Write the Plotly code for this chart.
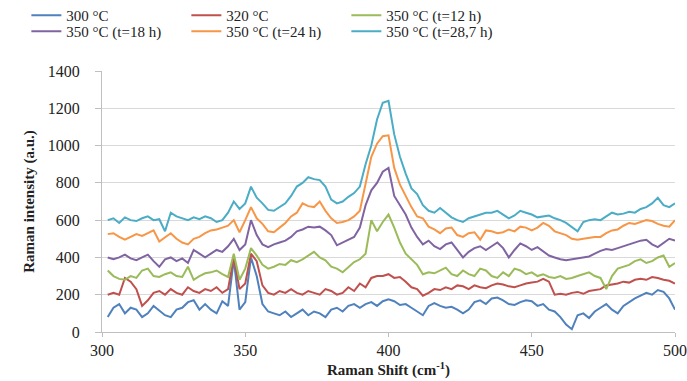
import plotly.graph_objects as go

x_start, x_step = 302, 2

s300 = [80, 130, 150, 100, 130, 120, 80, 100, 140, 115,
        90, 80, 120, 130, 160, 170, 120, 150, 120, 100,
        165, 140, 390, 120, 160, 400, 300, 150, 110, 100,
        90, 110, 80, 100, 120, 90, 110, 100, 80, 120,
        130, 110, 140, 150, 130, 150, 160, 140, 165,
        175, 165, 145, 150, 130, 110, 90, 140, 155, 140,
        130, 135, 120, 100, 120, 160, 170, 150, 180, 185,
        170, 150, 145, 160, 170, 165, 140, 150, 120, 110,
        80, 40, 15, 90, 100, 75, 110, 130, 150, 120,
        100, 140, 160, 180, 195, 210, 200, 225, 215, 180, 120]

s320 = [200, 210, 200, 290, 270, 230, 140, 170, 210, 220,
        200, 230, 210, 200, 240, 220, 210, 230, 220, 240,
        210, 230, 400, 230, 260, 420, 380, 250, 210, 200,
        220, 210, 230, 210, 200, 220, 210, 200, 230, 220,
        200, 210, 240, 220, 260, 240, 290, 300,
        300, 310, 290, 295, 270, 240, 230, 195, 210, 230,
        225, 240, 230, 250, 245, 230, 250, 240, 235, 250,
        260, 255, 245, 240, 250, 260, 265, 270, 285, 270,
        200, 205, 200, 210, 215, 205, 220, 225, 230, 250,
        255, 260, 270, 265, 280, 285, 280, 295, 290, 280, 275, 260]

s350_12 = [330, 300, 285, 280, 300, 290, 330, 340, 300, 295,
           310, 320, 300, 295, 350, 280, 300, 315, 320, 330,
           310, 295, 420, 280, 340, 450, 410, 360, 340, 350,
           365, 360, 385, 375, 390, 410, 430, 400, 385, 350,
           340, 320, 350, 375, 390, 420, 600, 540, 590, 630,
           560, 480, 420, 390, 360, 310, 320, 315, 330, 345,
           310, 300, 330, 310, 300, 340, 330, 300, 290, 320,
           300, 340, 330, 310, 320, 300, 310, 295, 290, 300,
           285, 290, 300, 310, 320, 300, 290, 230, 300, 340,
           350, 360, 380, 390, 370, 380, 400, 410, 350, 370]

s350_18 = [400, 390, 400, 415, 395, 385, 400, 415, 380, 350,
           390, 400, 380, 395, 370, 440, 420, 400, 420, 440,
           430, 460, 500, 440, 470, 600, 520, 470, 455, 470,
           480, 490, 510, 540, 550, 565, 560, 565, 545, 520,
           465, 480, 495, 510, 560, 680, 760, 800, 860, 880,
           730, 680, 630, 560, 510, 470, 490, 460, 445, 470,
           480, 440, 400, 430, 450, 460, 440, 460, 480, 450,
           400, 440, 475, 460, 440, 455, 430, 410, 400, 390,
           385, 390, 395, 400, 405, 420, 435, 445, 440, 450,
           460, 470, 480, 490, 495, 470, 455, 480, 500, 490]

s350_24 = [525, 530, 510, 495, 510, 525, 515, 530, 545, 485,
           510, 530, 500, 480, 470, 500, 510, 530, 545, 550,
           560, 570, 600, 535, 600, 670, 610, 580, 540, 535,
           560, 585, 620, 640, 690, 675, 670, 700, 650, 610,
           585, 590, 600, 620, 650, 800, 940, 1010, 1050, 1055,
           880, 790, 730, 670, 620, 610, 565, 550, 530, 555,
           560, 520, 510, 530, 535, 495, 545, 540, 530, 535,
           550, 540, 565, 560, 545, 560, 585, 570, 540, 530,
           520, 500, 495, 500, 505, 510, 510, 530, 545, 550,
           570, 585, 580, 590, 600, 595, 580, 570, 565, 600]

s350_287 = [600, 610, 585, 615, 600, 595, 610, 620, 600, 605,
            540, 640, 620, 610, 600, 615, 605, 620, 610, 590,
            600, 640, 700, 660, 690, 780, 720, 690, 655, 650,
            670, 690, 730, 780, 800, 830, 820, 815, 780, 710,
            690, 700, 725, 745, 780, 900, 1000, 1140, 1230, 1240,
            1060, 940, 850, 770, 740, 680, 650, 640, 665, 640,
            615, 600, 590, 610, 620, 630, 640, 640, 650, 630,
            610, 625, 650, 640, 630, 615, 620, 625, 610, 600,
            585, 560, 540, 590, 600, 605, 600, 620, 640, 630,
            635, 645, 640, 660, 670, 690, 720, 680, 670, 690]

names = ["300 °C", "320 °C", "350 °C (t=12 h)",
         "350 °C (t=18 h)", "350 °C (t=24 h)", "350 °C (t=28,7 h)"]
series = [s300, s320, s350_12, s350_18, s350_24, s350_287]
colors = ["#4F81BD", "#C0504D", "#9BBB59", "#8064A2", "#F79646", "#4BACC6"]

x_ticks = [300, 350, 400, 450, 500]
y_ticks = [0, 200, 400, 600, 800, 1000, 1200, 1400]

FONT = "Liberation Serif, Times New Roman, serif"

fig = go.Figure()
for i, (nm, ys, c) in enumerate(zip(names, series, colors)):
    xs = [x_start + x_step * k for k in range(len(ys))]
    fig.add_trace(go.Scatter(
        x=xs, y=ys, mode="lines", name=nm,
        line=dict(color=c, width=2),
        legend="legend" if i < 3 else "legend2",
    ))

legend_common = dict(
    orientation="h", xanchor="left", yanchor="top",
    font=dict(family=FONT, size=15, color="#222"),
    entrywidth=115, itemwidth=30, bgcolor="rgba(0,0,0,0)",
    tracegroupgap=0,
)

fig.update_layout(
    width=687, height=381,
    margin=dict(l=102, r=12, t=71, b=49, autoexpand=False),
    paper_bgcolor="white", plot_bgcolor="white",
    font=dict(family=FONT, size=15, color="#222"),
    showlegend=True,
    legend=dict(x=-0.132, y=1.276, **legend_common),
    legend2=dict(x=-0.132, y=1.215, **legend_common),
    xaxis=dict(
        range=[300, 500], tickvals=x_ticks, showgrid=False,
        showline=True, linecolor="#BFBFBF", linewidth=1,
        ticks="outside", ticklen=4, tickcolor="#BFBFBF",
        tickfont=dict(family=FONT, size=16, color="#222"),
        title=dict(text="<b>Raman Shift (cm<sup>-1</sup>)</b>",
                   font=dict(family=FONT, size=15, color="#222"), standoff=6),
        zeroline=False,
    ),
    yaxis=dict(
        range=[0, 1400], tickvals=y_ticks, showgrid=True,
        gridcolor="#D9D9D9", gridwidth=1,
        showline=True, linecolor="#BFBFBF", linewidth=1,
        ticks="outside", ticklen=6, tickcolor="#BFBFBF",
        ticklabelstandoff=12,
        tickfont=dict(family=FONT, size=16, color="#222"),
        title=dict(text="<b>Raman intensity (a.u.)</b>",
                   font=dict(family=FONT, size=15, color="#222"), standoff=9),
        zeroline=False,
    ),
)

fig.write_html("out.html")
